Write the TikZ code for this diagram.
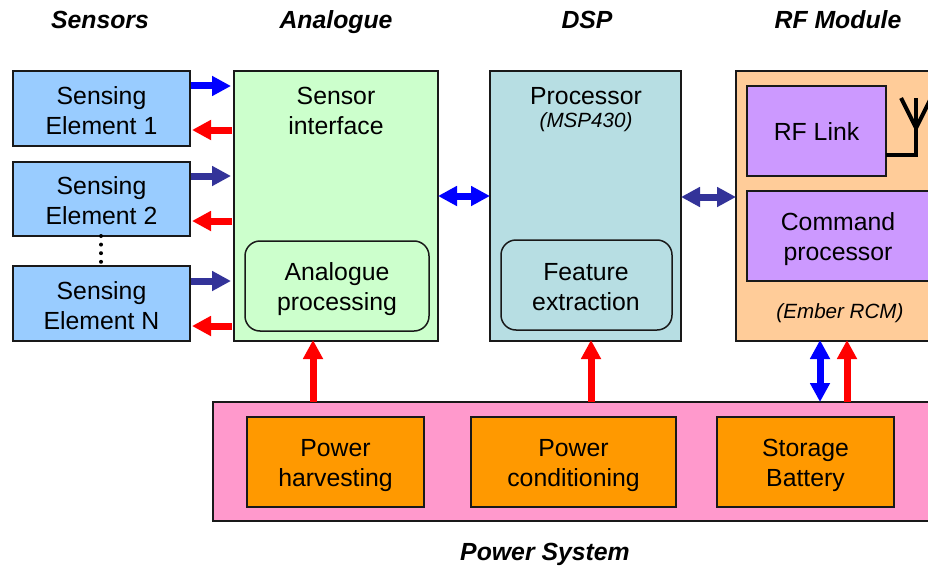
\documentclass[tikz,border=0pt]{standalone}
\usepackage{fontspec}
\setmainfont{Liberation Sans}
\usetikzlibrary{arrows.meta}
\definecolor{sens}{HTML}{99CCFF}
\definecolor{ana}{HTML}{CCFFCC}
\definecolor{dsp}{HTML}{B7DEE3}
\definecolor{rfm}{HTML}{FFCC99}
\definecolor{purp}{HTML}{CC99FF}
\definecolor{pink}{HTML}{FF99CC}
\definecolor{orng}{HTML}{FF9900}
\definecolor{dkblue}{HTML}{333399}
\tikzset{
  bx/.style={draw=black!90,line width=2pt,outer sep=0pt,inner sep=0pt,align=center},
  rbx/.style={bx,line width=1.5pt,rounded corners=15pt},
  txt/.style={inner sep=0pt,align=center,font=\fontsize{24.8}{30}\selectfont},
  hdr/.style={inner sep=0pt,anchor=base,font=\fontsize{24.8}{30}\selectfont\bfseries\itshape},
  ital/.style={inner sep=0pt,font=\fontsize{20.6}{25}\selectfont\itshape},
  one/.style={line width=7pt,-{Triangle[length=19pt,width=19pt]}},
  two/.style={line width=7pt,{Triangle[length=19pt,width=19pt]}-{Triangle[length=19pt,width=19pt]}},
}
\begin{document}
\begin{tikzpicture}[x=1pt,y=-1pt]
\path[use as bounding box,clip] (0,0) rectangle (928,567);
% headers
\node[hdr] (h1) at (100,28.5) {Sensors};
\node[hdr] (h2) at (336,28.5) {Analogue};
\node[hdr] (h3) at (587,28.5) {DSP};
\node[hdr] (h4) at (838,28.5) {RF Module};
\node[hdr] (h5) at (545,560.5) {Power System};
% sensors
\node[bx,fill=sens,minimum width=177pt,minimum height=75pt] (s1) at (101.5,108.5) {};
\node[bx,fill=sens,minimum width=177pt,minimum height=74pt] (s2) at (101.5,199) {};
\node[bx,fill=sens,minimum width=177pt,minimum height=75pt] (sn) at (101.5,303.5) {};
\node[txt] (t1) at (101.5,110.5) {Sensing\\Element 1};
\node[txt] (t2) at (101.5,201) {Sensing\\Element 2};
\node[txt] (tn) at (101.5,305.5) {Sensing\\Element N};
% analogue
\node[bx,fill=ana,minimum width=204pt,minimum height=270pt] (an) at (336,206) {};
\node[rbx,fill=ana,minimum width=184pt,minimum height=90pt] (ap) at (337,286) {};
\node[txt] (ta) at (336,111) {Sensor\\interface};
\node[txt] (tap) at (337,289) {Analogue\\processing};
% dsp
\node[bx,fill=dsp,minimum width=191pt,minimum height=270pt] (ds) at (585.5,206) {};
\node[rbx,fill=dsp,minimum width=171pt,minimum height=90pt] (fe) at (586.5,285) {};
\node[txt] (td) at (586,96) {Processor};
\node[ital] (tm) at (586,122.5) {(MSP430)};
\node[txt] (tf) at (586,287) {Feature\\extraction};
% rf
\node[bx,fill=rfm,minimum width=220pt,minimum height=270pt] (rf) at (846,206) {};
\node[bx,fill=purp,minimum width=139pt,minimum height=90pt] (rl) at (816.5,131) {};
\node[bx,fill=purp,minimum width=200pt,minimum height=90pt] (cp) at (847,236) {};
\node[txt] (trl) at (816.5,132) {RF Link};
\node[txt] (tcp) at (838,239) {Command\\processor};
\node[ital] (te) at (840,313.5) {(Ember RCM)};
% antenna
\coordinate (af) at (916,155);
\coordinate (at) at (916,98);
\coordinate (am) at (916,128);
\coordinate (al) at (901,98);
\coordinate (ar) at (931,98);
\draw[line width=4.5pt,black] (rl.east |- af) -- (af) -- (at);
\draw[line width=4pt,black] (al) -- (am) -- (ar);
% power
\node[bx,fill=pink,minimum width=740pt,minimum height=119pt] (pw) at (583,461.5) {};
\node[bx,fill=orng,minimum width=177pt,minimum height=90pt] (ph) at (335.5,461.5) {};
\node[bx,fill=orng,minimum width=205pt,minimum height=90pt] (pc) at (573.5,461.5) {};
\node[bx,fill=orng,minimum width=177pt,minimum height=90pt] (sb) at (805.5,461.5) {};
\node[txt] (tph) at (335.5,466) {Power\\harvesting};
\node[txt] (tpc) at (573.5,466) {Power\\conditioning};
\node[txt] (tsb) at (805.5,465) {Storage\\Battery};
% sensor dots
\draw[line width=4pt,line cap=round,dash pattern=on 0pt off 8.6pt] (s2.south -| 101,0) -- (sn.north -| 101,0);
% sensor arrows
\draw[one,blue]   ([xshift=1pt]s1.east |- 0,86)  -- ([xshift=-3pt]an.west |- 0,86);
\draw[one,red]    ([xshift=-2pt]an.west |- 0,130) -- ([xshift=2pt]s1.east |- 0,130);
\draw[one,dkblue] ([xshift=1pt]s2.east |- 0,176) -- ([xshift=-3pt]an.west |- 0,176);
\draw[one,red]    ([xshift=-2pt]an.west |- 0,221) -- ([xshift=2pt]s2.east |- 0,221);
\draw[one,dkblue] ([xshift=1pt]sn.east |- 0,281) -- ([xshift=-3pt]an.west |- 0,281);
\draw[one,red]    ([xshift=-2pt]an.west |- 0,326) -- ([xshift=2pt]sn.east |- 0,326);
% bus arrows
\draw[two,blue]   (an.east |- 0,196) -- (ds.west |- 0,196);
\draw[two,dkblue] (ds.east |- 0,197) -- (rf.west |- 0,197);
% power arrows
\draw[one,red] (pw.north -| 313,0) -- ([yshift=1pt]an.south -| 313,0);
\draw[one,red] (pw.north -| 591,0) -- ([yshift=1pt]ds.south -| 591,0);
\draw[one,red] (pw.north -| 847,0) -- ([yshift=1pt]rf.south -| 847,0);
\draw[two,blue] (pw.north -| 820,0) -- ([yshift=1pt]rf.south -| 820,0);
\end{tikzpicture}
\end{document}
